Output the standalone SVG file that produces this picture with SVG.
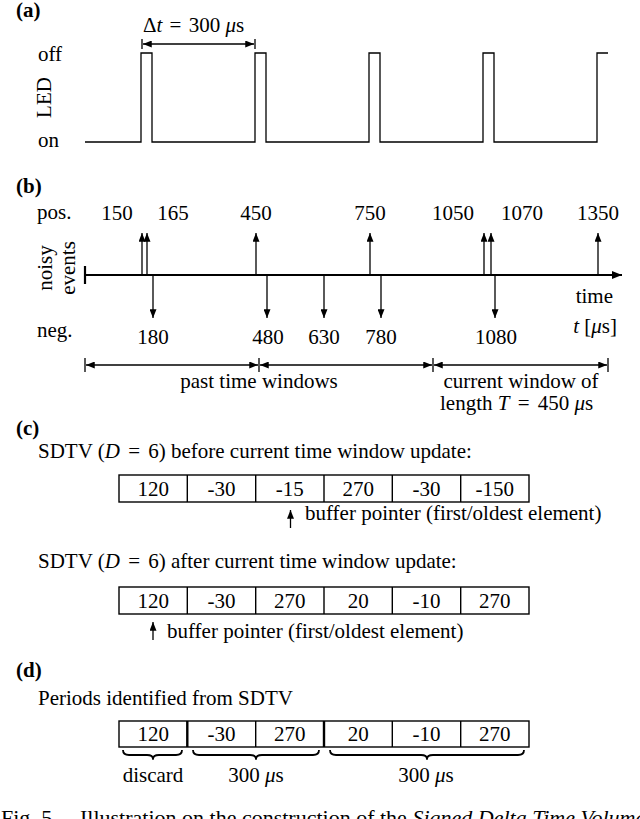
<svg xmlns="http://www.w3.org/2000/svg" width="640" height="819" viewBox="0 0 640 819">
<style>
.t{font-family:"Liberation Serif","DejaVu Serif",serif;font-size:21px;fill:#000}
.b{font-weight:bold}
.c{text-anchor:middle}
.e{text-anchor:end}
.i{font-style:italic}
.ln{stroke:#000;fill:none;stroke-width:1.3}
.ax{stroke:#000;fill:none;stroke-width:2.2}
.cell{stroke:#000;fill:none;stroke-width:1.4}
.br{stroke:#000;fill:none;stroke-width:1.8;stroke-linejoin:round}
</style>
<defs>
<marker id="ah" viewBox="0 0 10 8" refX="10" refY="4" markerWidth="10" markerHeight="8" orient="auto-start-reverse" markerUnits="userSpaceOnUse">
<path d="M0,0 L10,4 L0,8 z" fill="#000"/>
</marker>
<marker id="ahs" viewBox="0 0 10 8" refX="10" refY="4" markerWidth="9" markerHeight="7" orient="auto-start-reverse" markerUnits="userSpaceOnUse">
<path d="M0,0 L10,4 L0,8 z" fill="#000"/>
</marker>
</defs>
<rect width="640" height="819" fill="#fff"/>

<g id="panel-a">
<text class="t b" x="16" y="17">(a)</text>
<text class="t" x="143" y="32">Δ<tspan class="i">t</tspan><tspan dx="2"> = </tspan><tspan dx="2">300 </tspan><tspan class="i">μ</tspan>s</text>
<text class="t" x="38" y="61">off</text>
<text class="t" x="38" y="147">on</text>
<text class="t c" transform="translate(51,97.5) rotate(-90)">LED</text>
<path class="ln" d="M85,142 H141 V53 H152 V142 H255 V53 H266 V142 H369 V53 H380 V142 H483 V53 H494 V142 H597 V53 H608"/>
</g>

<g id="panel-b">
<text class="t b" x="16" y="193">(b)</text>
<text class="t" x="37" y="219">pos.</text>
<text class="t" x="37" y="337">neg.</text>
<text class="t c" transform="translate(52,268) rotate(-90)">noisy</text>
<text class="t c" transform="translate(75,268) rotate(-90)">events</text>
<text class="t c" x="117" y="220">150</text>
<text class="t c" x="173" y="220">165</text>
<text class="t c" x="256" y="220">450</text>
<text class="t c" x="370" y="220">750</text>
<text class="t c" x="453" y="220">1050</text>
<text class="t c" x="522" y="220">1070</text>
<text class="t c" x="598" y="220">1350</text>
<text class="t c" x="153" y="344">180</text>
<text class="t c" x="268" y="344">480</text>
<text class="t c" x="324" y="344">630</text>
<text class="t c" x="381" y="344">780</text>
<text class="t c" x="496" y="344">1080</text>
<text class="t e" x="613" y="303">time</text>
<text class="t e" x="617" y="333"><tspan class="i">t</tspan> [<tspan class="i">μ</tspan>s]</text>
<text class="t c" x="259" y="388">past time windows</text>
<text class="t c" x="521" y="388">current window of</text>
<text class="t" x="440" y="410">length <tspan class="i">T</tspan><tspan dx="3"> = </tspan><tspan dx="3">450 </tspan><tspan class="i">μ</tspan>s</text>
</g>

<g id="panel-c">
<text class="t b" x="16" y="435">(c)</text>
<text class="t" x="38" y="458">SDTV (<tspan class="i">D</tspan><tspan dx="3"> = </tspan><tspan dx="3">6) before current time window update:</tspan></text>
<g id="sdtv-before">
<rect class="cell" x="119" y="475" width="410" height="27"/>
<path class="cell" d="M187.3,475V502M255.7,475V502M324,475V502M392.3,475V502M460.7,475V502"/>
<text class="t c" x="153.2" y="496">120</text>
<text class="t c" x="221.5" y="496">-30</text>
<text class="t c" x="289.8" y="496">-15</text>
<text class="t c" x="358.2" y="496">270</text>
<text class="t c" x="426.5" y="496">-30</text>
<text class="t c" x="494.8" y="496">-150</text>
</g>
<text class="t" x="305" y="520">buffer pointer (first/oldest element)</text>
<text class="t" x="38" y="568">SDTV (<tspan class="i">D</tspan><tspan dx="3"> = </tspan><tspan dx="3">6) after current time window update:</tspan></text>
<g id="sdtv-after">
<rect class="cell" x="119" y="587" width="410" height="27"/>
<path class="cell" d="M187.3,587V614M255.7,587V614M324,587V614M392.3,587V614M460.7,587V614"/>
<text class="t c" x="153.2" y="608">120</text>
<text class="t c" x="221.5" y="608">-30</text>
<text class="t c" x="289.8" y="608">270</text>
<text class="t c" x="358.2" y="608">20</text>
<text class="t c" x="426.5" y="608">-10</text>
<text class="t c" x="494.8" y="608">270</text>
</g>
<text class="t" x="167" y="638">buffer pointer (first/oldest element)</text>
</g>

<g id="panel-d">
<text class="t b" x="16" y="677">(d)</text>
<text class="t" x="38" y="705">Periods identified from SDTV</text>
<g id="sdtv-periods">
<rect class="cell" x="119" y="721" width="410" height="26"/>
<path class="cell" d="M255.7,721V747M392.3,721V747M460.7,721V747"/>
<path d="M187.3,721V747M324,721V747" stroke="#000" stroke-width="2.4"/>
<text class="t c" x="153.2" y="741">120</text>
<text class="t c" x="221.5" y="741">-30</text>
<text class="t c" x="289.8" y="741">270</text>
<text class="t c" x="358.2" y="741">20</text>
<text class="t c" x="426.5" y="741">-10</text>
<text class="t c" x="494.8" y="741">270</text>
</g>
<path class="br" d="M123,750 q0,5 6,5 H147 q6,0 6,4 q0,-4 6,-4 H176 q6,0 6,-5"/>
<path class="br" d="M193,750 q0,5 6,5 H250 q6,0 6,4 q0,-4 6,-4 H313 q6,0 6,-5"/>
<path class="br" d="M330,750 q0,5 6,5 H421 q6,0 6,4 q0,-4 6,-4 H518 q6,0 6,-5"/>
<text class="t c" x="153" y="782">discard</text>
<text class="t c" x="256" y="782">300 <tspan class="i">μ</tspan>s</text>
<text class="t c" x="426" y="782">300 <tspan class="i">μ</tspan>s</text>
</g>

<g id="caption">
<text class="t" x="1" y="825" style="font-size:22px">Fig. 5.</text>
<text class="t" x="80" y="825" style="font-size:22px">Illustration on the construction of the <tspan class="i">Signed Delta Time Volume</tspan></text>
</g>

<g id="connectors">
<path class="ln" d="M142,39V49M255,39V49"/>
<path class="ln" d="M143,44H254" marker-start="url(#ahs)" marker-end="url(#ahs)"/>
<path class="ax" d="M85,275H622" marker-end="url(#ah)"/>
<path class="ax" d="M85,266V284"/>
<g class="ln" stroke-width="1.2">
<path d="M142,275V233" marker-end="url(#ahs)"/>
<path d="M147,275V233" marker-end="url(#ahs)"/>
<path d="M256,275V233" marker-end="url(#ahs)"/>
<path d="M370,275V233" marker-end="url(#ahs)"/>
<path d="M484,275V233" marker-end="url(#ahs)"/>
<path d="M491,275V233" marker-end="url(#ahs)"/>
<path d="M598,275V233" marker-end="url(#ahs)"/>
<path d="M153,275V318" marker-end="url(#ahs)"/>
<path d="M267,275V318" marker-end="url(#ahs)"/>
<path d="M324,275V318" marker-end="url(#ahs)"/>
<path d="M381,275V318" marker-end="url(#ahs)"/>
<path d="M495,275V318" marker-end="url(#ahs)"/>
</g>
<path class="ln" d="M85,358V372M259,358V372M433,358V372M608,358V372"/>
<g class="ln" stroke-width="1.2">
<path d="M86,365H258" marker-start="url(#ahs)" marker-end="url(#ahs)"/>
<path d="M260,365H432" marker-start="url(#ahs)" marker-end="url(#ahs)"/>
<path d="M434,365H607" marker-start="url(#ahs)" marker-end="url(#ahs)"/>
<path d="M290.5,528V510" marker-end="url(#ahs)"/>
<path d="M153,640V622" marker-end="url(#ahs)"/>
</g>
</g>
</svg>
